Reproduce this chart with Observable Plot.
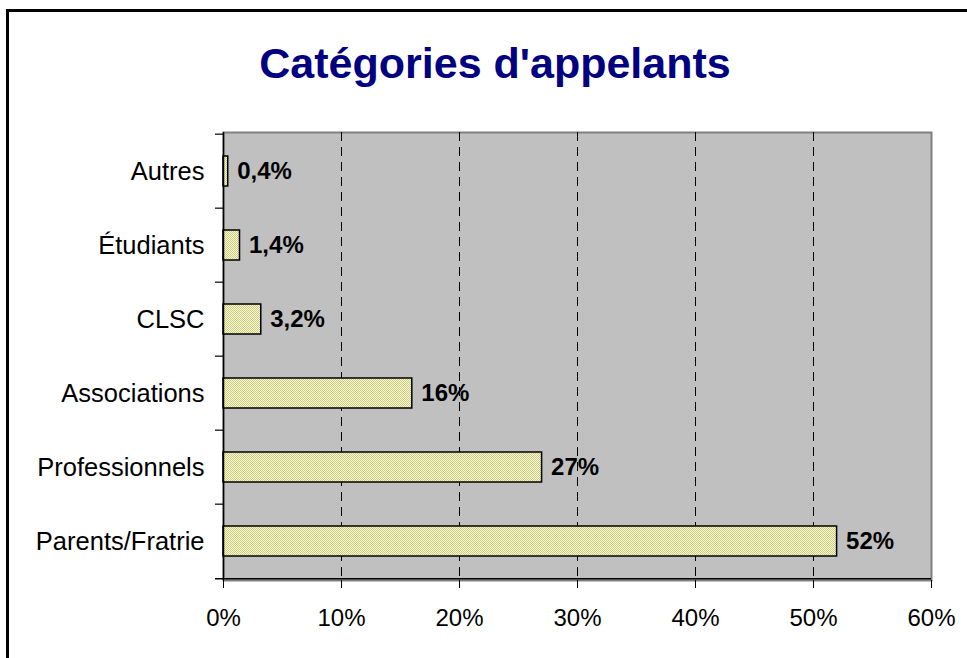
<!DOCTYPE html>
<html>
<head>
<meta charset="utf-8">
<script src="https://cdn.jsdelivr.net/npm/d3@7"></script>
<script src="https://cdn.jsdelivr.net/npm/@observablehq/plot@0.6"></script>
<style>
  html, body { margin: 0; padding: 0; width: 967px; height: 658px; overflow: hidden; background: #fff; font-family: "Liberation Sans", Arial, sans-serif; }
  #frame { position: absolute; left: 6px; top: 9px; width: 1000px; height: 700px; border: 3px solid #000; }
  #title { position: absolute; left: 0; top: 42px; width: 990px; text-align: center; font: bold 43px/43px "Liberation Sans", Arial, sans-serif; color: #000080; }
  #chart { position: absolute; left: 0; top: 100px; }
</style>
</head>
<body>
<svg width="0" height="0" style="position:absolute">
  <defs>
    <pattern id="dots" width="2" height="2" patternUnits="userSpaceOnUse">
      <rect width="2" height="2" fill="#ffff9c"/>
      <rect x="0" y="0" width="1" height="1" fill="#c4c4b8"/>
      <rect x="1" y="1" width="1" height="1" fill="#c4c4b8"/>
    </pattern>
  </defs>
</svg>
<div id="frame"></div>
<div id="title">Catégories d'appelants</div>
<div id="chart"></div>
<script>
const categories = ["Autres", "Étudiants", "CLSC", "Associations", "Professionnels", "Parents/Fratrie"];
const values = [0.4, 1.4, 3.2, 16, 27, 52];
const valueLabels = ["0,4%", "1,4%", "3,2%", "16%", "27%", "52%"];
const xTicks = [0, 10, 20, 30, 40, 50, 60];
const gridTicks = [10, 20, 30, 40, 50];

const data = categories.map((c, i) => ({category: c, value: values[i], label: valueLabels[i]}));

const W = 967, H = 558, mTop = 32, mBottom = 78, mLeft = 223, mRight = 36;
const step = (H - mTop - mBottom) / categories.length;
const tickLen = 8 * 60 / (W - mLeft - mRight);

const plot = Plot.plot({
  width: W,
  height: H,
  marginTop: mTop,
  marginBottom: mBottom,
  marginLeft: mLeft,
  marginRight: mRight,
  style: {fontFamily: "'Liberation Sans', Arial, sans-serif", background: "transparent", overflow: "visible"},
  x: {domain: [0, 60], ticks: xTicks, tickFormat: d => d + "%"},
  y: {domain: categories, paddingInner: 0.6, paddingOuter: 0.3},
  marks: [
    Plot.frame({fill: "#c0c0c0", stroke: "#808080", strokeWidth: 2}),
    Plot.ruleX(gridTicks, {stroke: "#000", strokeWidth: 1, strokeDasharray: "9,6"}),
    Plot.barX(data, {x: "value", y: "category", fill: "url(#dots)", stroke: "#000", strokeWidth: 1.5}),
    Plot.text(data, {x: "value", y: "category", text: "label", textAnchor: "start", dx: 9, fontSize: 24, fontWeight: "bold", fill: "#000"}),
    Plot.ruleX([0], {stroke: "#000", strokeWidth: 1.5}),
    Plot.ruleY(categories, {y: d => d, x1: -tickLen, x2: 0, dy: -step / 2, stroke: "#000", strokeWidth: 1.2}),
    Plot.ruleY([categories[categories.length - 1]], {y: d => d, x1: -tickLen, x2: 60, dy: step / 2, stroke: "#000", strokeWidth: 1.5}),
    Plot.axisX({ticks: xTicks, tickFormat: d => d + "%", tickSize: 8, tickPadding: 20, fontSize: 24, stroke: "#000", color: "#000", label: null}),
    Plot.axisY({tickSize: 0, tickPadding: 19, fontSize: 25.5, color: "#000", label: null})
  ]
});
document.getElementById("chart").appendChild(plot);
</script>
</body>
</html>
